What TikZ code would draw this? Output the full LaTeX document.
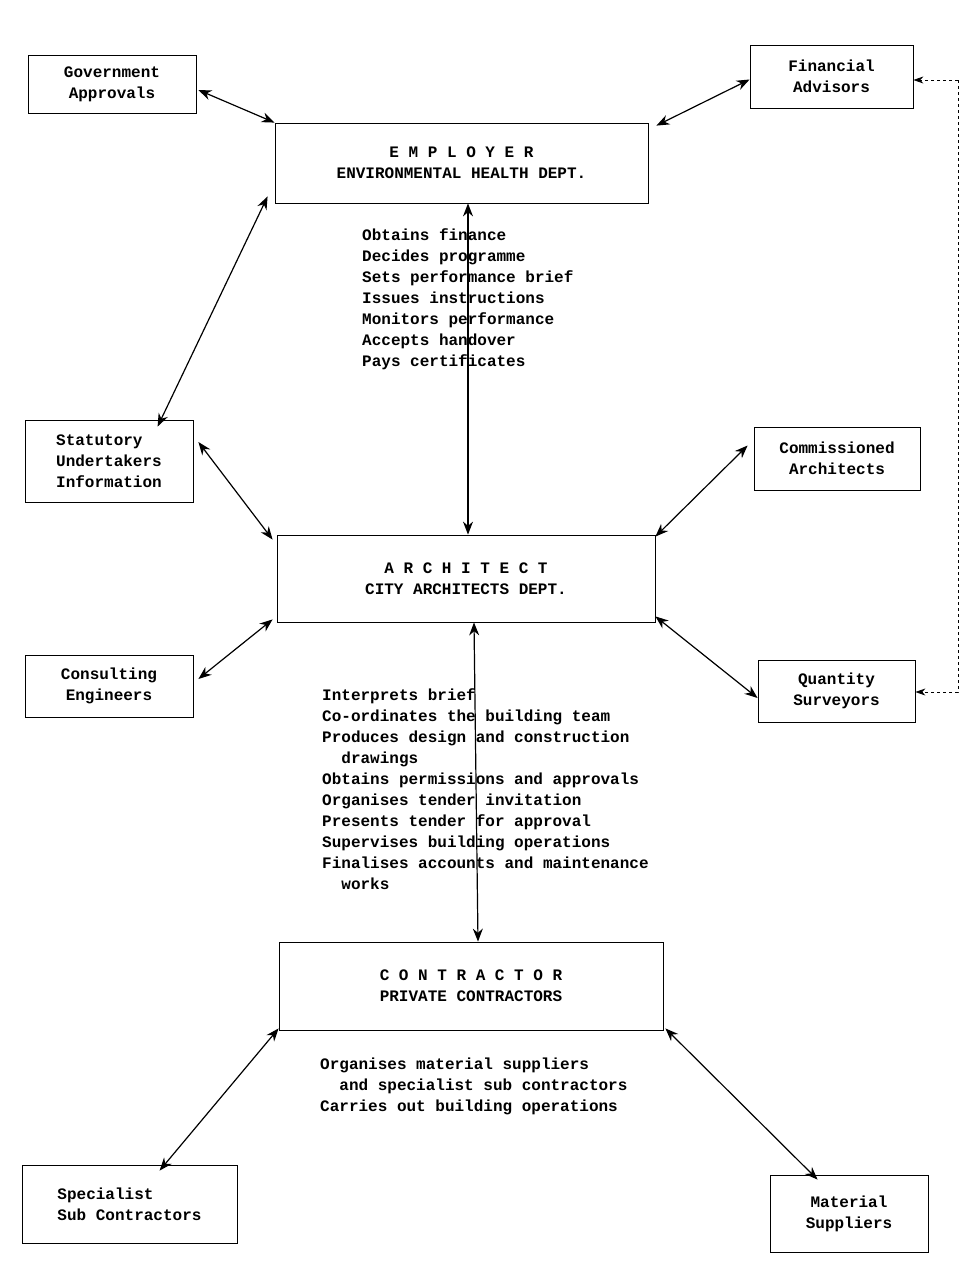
\documentclass[tikz,border=0pt]{standalone}
\usepackage{fontspec}
\setmonofont{Liberation Mono}
\usetikzlibrary{arrows.meta}
\newcommand{\txtsize}{\fontsize{16pt}{21pt}\selectfont\ttfamily\bfseries}

\begin{document}
\begin{tikzpicture}[x=1pt,y=-1pt,
    box/.style={draw, thick, inner sep=0pt, align=center, font=\txtsize},
    duty/.style={anchor=north west, inner sep=0pt, align=left, font=\txtsize},
    link/.style={very thick, {Stealth[length=13pt,width=10pt]}-{Stealth[length=13pt,width=10pt]}}]

      \useasboundingbox (0,0) rectangle (967,1277);

          %% the three main parties
      \node (emp) [box, minimum width=373, minimum height=80] at (461.5,163)
        {E M P L O Y E R\\ENVIRONMENTAL HEALTH DEPT.};
      \node (arc) [box, minimum width=378, minimum height=87] at (466,578.5)
        {A R C H I T E C T\\CITY ARCHITECTS DEPT.};
      \node (con) [box, minimum width=384, minimum height=88] at (471,986)
        {C O N T R A C T O R\\PRIVATE CONTRACTORS};

          %% the others
      \node (gov) [box, minimum width=168, minimum height=58] at (112,84) {Government\\Approvals};
      \node (fin) [box, minimum width=163, minimum height=63] at (831.5,76.5) {Financial\\Advisors};
      \node (sta) [box, minimum width=168, minimum height=82, align=left] at (109,461)
        {Statutory\\Undertakers\\Information};
      \node (com) [box, minimum width=166, minimum height=63] at (837,458.5) {Commissioned\\Architects};
      \node (eng) [box, minimum width=168, minimum height=62] at (109,686) {Consulting\\Engineers};
      \node (qs) [box, minimum width=157, minimum height=62] at (836.5,691) {Quantity\\Surveyors};
      \node (sub) [box, minimum width=215, minimum height=78, align=left] at (129.5,1204)
        {Specialist\\Sub Contractors};
      \node (mat) [box, minimum width=158, minimum height=77] at (849,1213.5) {Material\\Suppliers};

          %% duties
      \node (empd) [duty] at (362,228) {Obtains finance\\Decides programme\\Sets performance brief\\
        Issues instructions\\Monitors performance\\Accepts handover\\Pays certificates};
      \node (arcd) [duty] at (322,688) {Interprets brief\\Co-ordinates the building team\\
        Produces design and construction\\\ \ drawings\\Obtains permissions and approvals\\
        Organises tender invitation\\Presents tender for approval\\Supervises building operations\\
        Finalises accounts and maintenance\\\ \ works};
      \node (cond) [duty] at (320,1058) {Organises material suppliers\\\ \ and specialist sub contractors\\
        Carries out building operations};

      \coordinate (c1) at (958,80);
      \coordinate (c2) at (958,692);

      \draw[link] (gov.east) ++(2,6) -- (emp.north west);
      \draw[link] ([yshift=-3]fin.west) -- ([xshift=8,yshift=-3]emp.north east);
      \draw[link] ([xshift=-7,yshift=7]emp.south west) -- ([xshift=133,yshift=-7]sta.north west);
      \draw[link] ([xshift=6.5]emp.south) -- ([xshift=2]arc.north);
      \draw[link] ([xshift=5,yshift=19]sta.east) -- ([xshift=-4,yshift=-5]arc.north west);
      \draw[link] ([xshift=-6,yshift=13]com.west) -- ([yshift=-2]arc.north east);
      \draw[link] ([xshift=5,yshift=7]eng.east) -- ([xshift=-4,yshift=3]arc.south west);
      \draw[link] ([yshift=-7]qs.west) -- ([yshift=6]arc.south east);
      \draw[link] ([xshift=8]arc.south) -- ([xshift=7]con.north);
      \draw[link] ([yshift=2]con.south west) -- ([xshift=138,yshift=-6]sub.north west);
      \draw[link] ([xshift=2,yshift=2]con.south east) -- ([xshift=48,yshift=-5]mat.north west);
      \draw[thick, dashed, -{Stealth[length=10pt,width=7pt]}] (c1) -- (fin.east |- c1);
      \draw[thick, dashed, -{Stealth[length=10pt,width=7pt]}] (c1) -- (c2) -- (qs.east |- c2);

\end{tikzpicture}
\end{document}
